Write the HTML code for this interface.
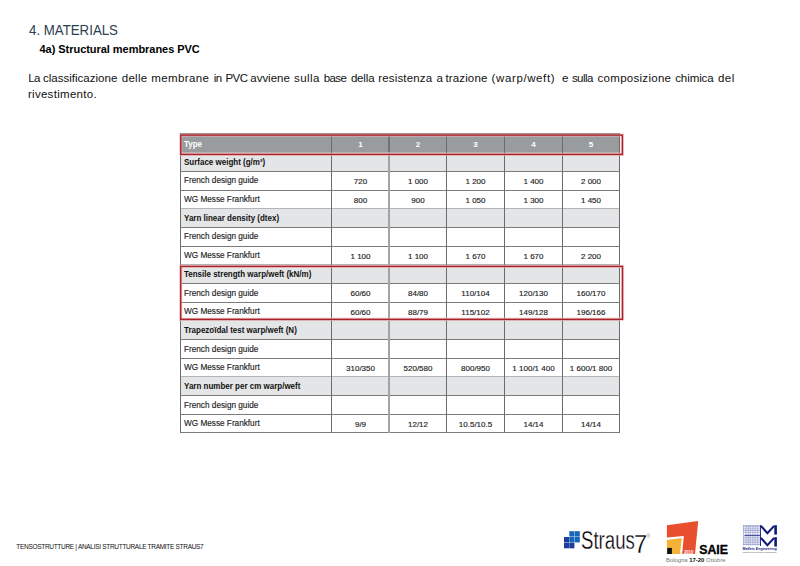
<!DOCTYPE html>
<html><head><meta charset="utf-8"><title>4. Materials</title><style>
html,body{margin:0;padding:0;background:#fff;}
body{width:800px;height:566px;overflow:hidden;position:relative;font-family:"Liberation Sans",Arial,sans-serif;}
.a{position:absolute;white-space:nowrap;}
.c{position:absolute;text-align:center;white-space:nowrap;}
.bg{position:absolute;}
</style></head><body>
<div class="a" id="t1" style="left:28.60px;top:22.73px;font-size:14.50px;line-height:14.50px;color:#2c4050;transform:scaleX(0.915);transform-origin:0 0;">4. MATERIALS</div>
<div class="a" id="t2" style="left:39.50px;top:44.29px;font-size:11.00px;line-height:11.00px;font-weight:bold;color:#000;letter-spacing:-0.04px;">4a) Structural membranes PVC</div>
<div class="a" id="p1" style="left:28.7px;top:73.47px;width:710px;height:14px;font-size:11.5px;line-height:11.5px;color:#111;"><span style="position:absolute;left:-0.50px;letter-spacing:-0.60px">La</span> <span style="position:absolute;left:14.20px;letter-spacing:0.02px">classificazione</span> <span style="position:absolute;left:93.10px;letter-spacing:0.25px">delle</span> <span style="position:absolute;left:122.60px;letter-spacing:0.38px">membrane</span> <span style="position:absolute;left:185.10px;letter-spacing:-0.60px">in</span> <span style="position:absolute;left:196.80px;letter-spacing:-0.60px">PVC</span> <span style="position:absolute;left:221.60px;letter-spacing:-0.02px">avviene</span> <span style="position:absolute;left:265.30px;letter-spacing:0.46px">sulla</span> <span style="position:absolute;left:295.00px;letter-spacing:-0.60px">base</span> <span style="position:absolute;left:322.20px;letter-spacing:-0.15px">della</span> <span style="position:absolute;left:349.60px;letter-spacing:0.16px">resistenza</span> <span style="position:absolute;left:407.70px;letter-spacing:0.00px">a</span> <span style="position:absolute;left:416.70px;letter-spacing:0.15px">trazione</span> <span style="position:absolute;left:462.90px;letter-spacing:0.61px">(warp/weft)</span> <span style="position:absolute;left:533.20px;letter-spacing:0.00px">e</span> <span style="position:absolute;left:543.20px;letter-spacing:-0.54px">sulla</span> <span style="position:absolute;left:568.90px;letter-spacing:0.28px">composizione</span> <span style="position:absolute;left:646.50px;letter-spacing:-0.08px">chimica</span> <span style="position:absolute;left:689.20px;letter-spacing:0.52px">del</span> </div>
<div class="a" id="p2" style="left:27.90px;top:88.67px;font-size:11.50px;line-height:11.50px;color:#111;letter-spacing:0.3px;">rivestimento.</div>
<div class="bg" style="left:180px;top:133px;width:439px;height:19px;background:#989c9f"></div>
<div class="bg" style="left:180px;top:152px;width:439px;height:19px;background:#e4e5e7"></div>
<div class="bg" style="left:180px;top:208px;width:439px;height:19px;background:#e4e5e7"></div>
<div class="bg" style="left:180px;top:264px;width:439px;height:19px;background:#e4e5e7"></div>
<div class="bg" style="left:180px;top:320px;width:439px;height:19px;background:#e4e5e7"></div>
<div class="bg" style="left:180px;top:376px;width:439px;height:19px;background:#e4e5e7"></div>
<div class="bg" style="left:180px;top:133px;width:440px;height:1px;background:#7c7c7c"></div>
<div class="bg" style="left:180px;top:152px;width:440px;height:1px;background:#b4b4b4"></div>
<div class="bg" style="left:180px;top:171px;width:440px;height:1px;background:#7c7c7c"></div>
<div class="bg" style="left:180px;top:190px;width:440px;height:1px;background:#7c7c7c"></div>
<div class="bg" style="left:180px;top:208px;width:440px;height:1px;background:#b4b4b4"></div>
<div class="bg" style="left:180px;top:227px;width:440px;height:1px;background:#7c7c7c"></div>
<div class="bg" style="left:180px;top:246px;width:440px;height:1px;background:#7c7c7c"></div>
<div class="bg" style="left:180px;top:264px;width:440px;height:1px;background:#b4b4b4"></div>
<div class="bg" style="left:180px;top:283px;width:440px;height:1px;background:#7c7c7c"></div>
<div class="bg" style="left:180px;top:302px;width:440px;height:1px;background:#7c7c7c"></div>
<div class="bg" style="left:180px;top:320px;width:440px;height:1px;background:#b4b4b4"></div>
<div class="bg" style="left:180px;top:339px;width:440px;height:1px;background:#7c7c7c"></div>
<div class="bg" style="left:180px;top:358px;width:440px;height:1px;background:#7c7c7c"></div>
<div class="bg" style="left:180px;top:376px;width:440px;height:1px;background:#b4b4b4"></div>
<div class="bg" style="left:180px;top:395px;width:440px;height:1px;background:#7c7c7c"></div>
<div class="bg" style="left:180px;top:414px;width:440px;height:1px;background:#7c7c7c"></div>
<div class="bg" style="left:180px;top:432px;width:440px;height:1px;background:#7c7c7c"></div>
<div class="bg" style="left:180px;top:133px;width:1px;height:300px;background:#6c6c6c"></div>
<div class="bg" style="left:331px;top:133px;width:1px;height:300px;background:#6c6c6c"></div>
<div class="bg" style="left:388px;top:133px;width:2px;height:300px;background:#a3a3a3"></div>
<div class="bg" style="left:388px;top:133px;width:2px;height:19px;background:#707274"></div>
<div class="bg" style="left:446px;top:133px;width:1px;height:300px;background:#6c6c6c"></div>
<div class="bg" style="left:504px;top:133px;width:1px;height:300px;background:#6c6c6c"></div>
<div class="bg" style="left:562px;top:133px;width:1px;height:300px;background:#6c6c6c"></div>
<div class="bg" style="left:619px;top:133px;width:1px;height:300px;background:#6c6c6c"></div>
<div class="a" id="r0" style="left:184.00px;top:140.32px;font-size:8.60px;line-height:8.60px;font-weight:bold;color:#fff;transform:scaleX(0.930);transform-origin:0 0;">Type</div>
<div class="c" id="v0_0" style="left:332px;width:57px;top:140.83px;font-size:8.00px;line-height:8.00px;font-weight:bold;color:#fff;">1</div>
<div class="c" id="v0_1" style="left:390px;width:56px;top:140.83px;font-size:8.00px;line-height:8.00px;font-weight:bold;color:#fff;">2</div>
<div class="c" id="v0_2" style="left:447px;width:57px;top:140.83px;font-size:8.00px;line-height:8.00px;font-weight:bold;color:#fff;">3</div>
<div class="c" id="v0_3" style="left:505px;width:57px;top:140.83px;font-size:8.00px;line-height:8.00px;font-weight:bold;color:#fff;">4</div>
<div class="c" id="v0_4" style="left:563px;width:56px;top:140.83px;font-size:8.00px;line-height:8.00px;font-weight:bold;color:#fff;">5</div>
<div class="a" id="r1" style="left:184.00px;top:158.11px;font-size:8.60px;line-height:8.60px;font-weight:bold;color:#111;transform:scaleX(0.930);transform-origin:0 0;">Surface weight (g/m²)</div>
<div class="a" id="r2" style="left:184.00px;top:176.40px;font-size:8.60px;line-height:8.60px;color:#1c1c1c;-webkit-text-stroke:0.15px #1c1c1c;transform:scaleX(0.955);transform-origin:0 0;">French design guide</div>
<div class="c" id="v2_0" style="left:332px;width:57px;top:177.81px;font-size:8.00px;line-height:8.00px;color:#1c1c1c;-webkit-text-stroke:0.15px #1c1c1c;">720</div>
<div class="c" id="v2_1" style="left:390px;width:56px;top:177.81px;font-size:8.00px;line-height:8.00px;color:#1c1c1c;-webkit-text-stroke:0.15px #1c1c1c;">1 000</div>
<div class="c" id="v2_2" style="left:447px;width:57px;top:177.81px;font-size:8.00px;line-height:8.00px;color:#1c1c1c;-webkit-text-stroke:0.15px #1c1c1c;">1 200</div>
<div class="c" id="v2_3" style="left:505px;width:57px;top:177.81px;font-size:8.00px;line-height:8.00px;color:#1c1c1c;-webkit-text-stroke:0.15px #1c1c1c;">1 400</div>
<div class="c" id="v2_4" style="left:563px;width:56px;top:177.81px;font-size:8.00px;line-height:8.00px;color:#1c1c1c;-webkit-text-stroke:0.15px #1c1c1c;">2 000</div>
<div class="a" id="r3" style="left:184.00px;top:195.09px;font-size:8.60px;line-height:8.60px;color:#1c1c1c;-webkit-text-stroke:0.15px #1c1c1c;transform:scaleX(0.955);transform-origin:0 0;">WG Messe Frankfurt</div>
<div class="c" id="v3_0" style="left:332px;width:57px;top:196.50px;font-size:8.00px;line-height:8.00px;color:#1c1c1c;-webkit-text-stroke:0.15px #1c1c1c;">800</div>
<div class="c" id="v3_1" style="left:390px;width:56px;top:196.50px;font-size:8.00px;line-height:8.00px;color:#1c1c1c;-webkit-text-stroke:0.15px #1c1c1c;">900</div>
<div class="c" id="v3_2" style="left:447px;width:57px;top:196.50px;font-size:8.00px;line-height:8.00px;color:#1c1c1c;-webkit-text-stroke:0.15px #1c1c1c;">1 050</div>
<div class="c" id="v3_3" style="left:505px;width:57px;top:196.50px;font-size:8.00px;line-height:8.00px;color:#1c1c1c;-webkit-text-stroke:0.15px #1c1c1c;">1 300</div>
<div class="c" id="v3_4" style="left:563px;width:56px;top:196.50px;font-size:8.00px;line-height:8.00px;color:#1c1c1c;-webkit-text-stroke:0.15px #1c1c1c;">1 450</div>
<div class="a" id="r4" style="left:184.00px;top:214.18px;font-size:8.60px;line-height:8.60px;font-weight:bold;color:#111;transform:scaleX(0.930);transform-origin:0 0;">Yarn linear density (dtex)</div>
<div class="a" id="r5" style="left:184.00px;top:232.47px;font-size:8.60px;line-height:8.60px;color:#1c1c1c;-webkit-text-stroke:0.15px #1c1c1c;transform:scaleX(0.955);transform-origin:0 0;">French design guide</div>
<div class="a" id="r6" style="left:184.00px;top:251.16px;font-size:8.60px;line-height:8.60px;color:#1c1c1c;-webkit-text-stroke:0.15px #1c1c1c;transform:scaleX(0.955);transform-origin:0 0;">WG Messe Frankfurt</div>
<div class="c" id="v6_0" style="left:332px;width:57px;top:252.57px;font-size:8.00px;line-height:8.00px;color:#1c1c1c;-webkit-text-stroke:0.15px #1c1c1c;">1 100</div>
<div class="c" id="v6_1" style="left:390px;width:56px;top:252.57px;font-size:8.00px;line-height:8.00px;color:#1c1c1c;-webkit-text-stroke:0.15px #1c1c1c;">1 100</div>
<div class="c" id="v6_2" style="left:447px;width:57px;top:252.57px;font-size:8.00px;line-height:8.00px;color:#1c1c1c;-webkit-text-stroke:0.15px #1c1c1c;">1 670</div>
<div class="c" id="v6_3" style="left:505px;width:57px;top:252.57px;font-size:8.00px;line-height:8.00px;color:#1c1c1c;-webkit-text-stroke:0.15px #1c1c1c;">1 670</div>
<div class="c" id="v6_4" style="left:563px;width:56px;top:252.57px;font-size:8.00px;line-height:8.00px;color:#1c1c1c;-webkit-text-stroke:0.15px #1c1c1c;">2 200</div>
<div class="a" id="r7" style="left:184.00px;top:270.25px;font-size:8.60px;line-height:8.60px;font-weight:bold;color:#111;transform:scaleX(0.930);transform-origin:0 0;">Tensile strength warp/weft (kN/m)</div>
<div class="a" id="r8" style="left:184.00px;top:288.54px;font-size:8.60px;line-height:8.60px;color:#1c1c1c;-webkit-text-stroke:0.15px #1c1c1c;transform:scaleX(0.955);transform-origin:0 0;">French design guide</div>
<div class="c" id="v8_0" style="left:332px;width:57px;top:289.95px;font-size:8.00px;line-height:8.00px;color:#1c1c1c;-webkit-text-stroke:0.15px #1c1c1c;">60/60</div>
<div class="c" id="v8_1" style="left:390px;width:56px;top:289.95px;font-size:8.00px;line-height:8.00px;color:#1c1c1c;-webkit-text-stroke:0.15px #1c1c1c;">84/80</div>
<div class="c" id="v8_2" style="left:447px;width:57px;top:289.95px;font-size:8.00px;line-height:8.00px;color:#1c1c1c;-webkit-text-stroke:0.15px #1c1c1c;">110/104</div>
<div class="c" id="v8_3" style="left:505px;width:57px;top:289.95px;font-size:8.00px;line-height:8.00px;color:#1c1c1c;-webkit-text-stroke:0.15px #1c1c1c;">120/130</div>
<div class="c" id="v8_4" style="left:563px;width:56px;top:289.95px;font-size:8.00px;line-height:8.00px;color:#1c1c1c;-webkit-text-stroke:0.15px #1c1c1c;">160/170</div>
<div class="a" id="r9" style="left:184.00px;top:307.23px;font-size:8.60px;line-height:8.60px;color:#1c1c1c;-webkit-text-stroke:0.15px #1c1c1c;transform:scaleX(0.955);transform-origin:0 0;">WG Messe Frankfurt</div>
<div class="c" id="v9_0" style="left:332px;width:57px;top:308.64px;font-size:8.00px;line-height:8.00px;color:#1c1c1c;-webkit-text-stroke:0.15px #1c1c1c;">60/60</div>
<div class="c" id="v9_1" style="left:390px;width:56px;top:308.64px;font-size:8.00px;line-height:8.00px;color:#1c1c1c;-webkit-text-stroke:0.15px #1c1c1c;">88/79</div>
<div class="c" id="v9_2" style="left:447px;width:57px;top:308.64px;font-size:8.00px;line-height:8.00px;color:#1c1c1c;-webkit-text-stroke:0.15px #1c1c1c;">115/102</div>
<div class="c" id="v9_3" style="left:505px;width:57px;top:308.64px;font-size:8.00px;line-height:8.00px;color:#1c1c1c;-webkit-text-stroke:0.15px #1c1c1c;">149/128</div>
<div class="c" id="v9_4" style="left:563px;width:56px;top:308.64px;font-size:8.00px;line-height:8.00px;color:#1c1c1c;-webkit-text-stroke:0.15px #1c1c1c;">196/166</div>
<div class="a" id="r10" style="left:184.00px;top:326.32px;font-size:8.60px;line-height:8.60px;font-weight:bold;color:#111;transform:scaleX(0.930);transform-origin:0 0;">Trapezoïdal test warp/weft (N)</div>
<div class="a" id="r11" style="left:184.00px;top:344.61px;font-size:8.60px;line-height:8.60px;color:#1c1c1c;-webkit-text-stroke:0.15px #1c1c1c;transform:scaleX(0.955);transform-origin:0 0;">French design guide</div>
<div class="a" id="r12" style="left:184.00px;top:363.30px;font-size:8.60px;line-height:8.60px;color:#1c1c1c;-webkit-text-stroke:0.15px #1c1c1c;transform:scaleX(0.955);transform-origin:0 0;">WG Messe Frankfurt</div>
<div class="c" id="v12_0" style="left:332px;width:57px;top:364.71px;font-size:8.00px;line-height:8.00px;color:#1c1c1c;-webkit-text-stroke:0.15px #1c1c1c;">310/350</div>
<div class="c" id="v12_1" style="left:390px;width:56px;top:364.71px;font-size:8.00px;line-height:8.00px;color:#1c1c1c;-webkit-text-stroke:0.15px #1c1c1c;">520/580</div>
<div class="c" id="v12_2" style="left:447px;width:57px;top:364.71px;font-size:8.00px;line-height:8.00px;color:#1c1c1c;-webkit-text-stroke:0.15px #1c1c1c;">800/950</div>
<div class="c" id="v12_3" style="left:505px;width:57px;top:364.71px;font-size:8.00px;line-height:8.00px;color:#1c1c1c;-webkit-text-stroke:0.15px #1c1c1c;">1 100/1 400</div>
<div class="c" id="v12_4" style="left:563px;width:56px;top:364.71px;font-size:8.00px;line-height:8.00px;color:#1c1c1c;-webkit-text-stroke:0.15px #1c1c1c;">1 600/1 800</div>
<div class="a" id="r13" style="left:184.00px;top:382.39px;font-size:8.60px;line-height:8.60px;font-weight:bold;color:#111;transform:scaleX(0.930);transform-origin:0 0;">Yarn number per cm warp/weft</div>
<div class="a" id="r14" style="left:184.00px;top:400.68px;font-size:8.60px;line-height:8.60px;color:#1c1c1c;-webkit-text-stroke:0.15px #1c1c1c;transform:scaleX(0.955);transform-origin:0 0;">French design guide</div>
<div class="a" id="r15" style="left:184.00px;top:419.37px;font-size:8.60px;line-height:8.60px;color:#1c1c1c;-webkit-text-stroke:0.15px #1c1c1c;transform:scaleX(0.955);transform-origin:0 0;">WG Messe Frankfurt</div>
<div class="c" id="v15_0" style="left:332px;width:57px;top:420.78px;font-size:8.00px;line-height:8.00px;color:#1c1c1c;-webkit-text-stroke:0.15px #1c1c1c;">9/9</div>
<div class="c" id="v15_1" style="left:390px;width:56px;top:420.78px;font-size:8.00px;line-height:8.00px;color:#1c1c1c;-webkit-text-stroke:0.15px #1c1c1c;">12/12</div>
<div class="c" id="v15_2" style="left:447px;width:57px;top:420.78px;font-size:8.00px;line-height:8.00px;color:#1c1c1c;-webkit-text-stroke:0.15px #1c1c1c;">10.5/10.5</div>
<div class="c" id="v15_3" style="left:505px;width:57px;top:420.78px;font-size:8.00px;line-height:8.00px;color:#1c1c1c;-webkit-text-stroke:0.15px #1c1c1c;">14/14</div>
<div class="c" id="v15_4" style="left:563px;width:56px;top:420.78px;font-size:8.00px;line-height:8.00px;color:#1c1c1c;-webkit-text-stroke:0.15px #1c1c1c;">14/14</div>
<svg class="bg" style="left:0;top:0" width="800" height="566" viewBox="0 0 800 566">
<g fill="none">
<rect x="180.8" y="135.1" width="441.6" height="19.3" stroke="#f0b4b7" stroke-opacity="0.7" stroke-width="3.2"/>
<rect x="180.8" y="135.1" width="441.6" height="19.3" stroke="#a8232b" stroke-width="1.4"/>
<rect x="180.7" y="266.4" width="441.8" height="52.9" stroke="#f0b4b7" stroke-opacity="0.7" stroke-width="3.2"/>
<rect x="180.7" y="266.4" width="441.8" height="52.9" stroke="#a8232b" stroke-width="1.4"/>
</g></svg>
<div class="a" id="f1" style="left:16.30px;top:543.90px;font-size:6.50px;line-height:6.50px;color:#111;letter-spacing:-0.3px;">TENSOSTRUTTURE | ANALISI STRUTTURALE TRAMITE STRAUS7</div>
<svg class="bg" style="left:560px;top:526px" width="30" height="26" viewBox="560 526 30 26">
<rect x="569.3" y="531.2" width="5.1" height="5.4" fill="#1565b8"/>
<rect x="574.7" y="531.2" width="5.1" height="5.4" fill="#1565b8"/>
<rect x="564" y="537" width="5.1" height="5.4" fill="#1f3b9c"/>
<rect x="569.3" y="537" width="5.1" height="5.4" fill="#1565b8"/>
<rect x="574.7" y="537" width="5.1" height="5.4" fill="#1565b8"/>
<rect x="564" y="542.7" width="5.1" height="5.6" fill="#1f3b9c"/>
<rect x="569.3" y="542.7" width="5.1" height="5.6" fill="#1f3b9c"/>
</svg>
<div class="a" id="s7" style="left:581.00px;top:528.44px;font-size:25.00px;line-height:25.00px;color:#000;transform:scaleX(0.745);transform-origin:0 0;-webkit-text-stroke:0.35px #fff;">Straus</div>
<div class="a" id="s7b" style="left:633.60px;top:531.71px;font-size:25.50px;line-height:25.50px;color:#000;transform:scaleX(0.93);transform-origin:0 0;-webkit-text-stroke:0.3px #fff;">7</div>
<div class="a" id="s7r" style="left:646.60px;top:534.17px;font-size:5.00px;line-height:5.00px;color:#888;">®</div>
<svg class="bg" style="left:660px;top:516px" width="45" height="42" viewBox="660 516 45 42">
<polygon points="666.9,525.2 698.2,520.9 695,554 682.2,554 683.8,536 666.9,537.4" fill="#e84f2f"/>
<polygon points="666.9,540 681.8,538 680,554 666.9,554" fill="#f6b137"/>
<rect x="667.2" y="547.9" width="4.7" height="6.1" fill="#111"/>
<text x="683.9" y="553.6" font-family="Liberation Sans" font-size="4.6" font-weight="bold" fill="#fff" textLength="9.4" lengthAdjust="spacingAndGlyphs">2010</text>
</svg>
<div class="a" id="saie" style="left:699.20px;top:543.79px;font-size:12.30px;line-height:12.30px;font-weight:bold;color:#000;-webkit-text-stroke:0.35px #000;">SAIE</div>
<div class="a" id="bol" style="left:666px;top:557.51px;font-size:5.9px;line-height:5.9px;color:#777;">Bologna <b style="color:#111">17-20</b> Ottobre</div>
<svg class="bg" style="left:740px;top:522px" width="42" height="34" viewBox="740 522 42 34">
<line x1="743" y1="525.70" x2="760" y2="525.70" stroke="#8d95c8" stroke-width="0.7"/>
<line x1="743" y1="526.80" x2="760" y2="526.80" stroke="#8d95c8" stroke-width="0.7"/>
<line x1="743" y1="528.90" x2="760" y2="528.90" stroke="#8d95c8" stroke-width="0.7"/>
<line x1="743" y1="530.50" x2="760" y2="530.50" stroke="#8d95c8" stroke-width="0.7"/>
<line x1="743" y1="532.30" x2="760" y2="532.30" stroke="#8d95c8" stroke-width="0.7"/>
<line x1="743" y1="537.20" x2="760" y2="537.20" stroke="#8d95c8" stroke-width="0.7"/>
<line x1="743" y1="539.00" x2="760" y2="539.00" stroke="#8d95c8" stroke-width="0.7"/>
<line x1="743" y1="540.90" x2="760" y2="540.90" stroke="#8d95c8" stroke-width="0.7"/>
<line x1="743" y1="542.70" x2="760" y2="542.70" stroke="#8d95c8" stroke-width="0.7"/>
<line x1="743" y1="544.50" x2="760" y2="544.50" stroke="#8d95c8" stroke-width="0.7"/>
<line x1="743.40" y1="525" x2="743.40" y2="545.7" stroke="#98a0cf" stroke-width="0.7"/>
<line x1="746.00" y1="525" x2="746.00" y2="545.7" stroke="#98a0cf" stroke-width="0.7"/>
<line x1="748.30" y1="525" x2="748.30" y2="545.7" stroke="#98a0cf" stroke-width="0.7"/>
<line x1="750.30" y1="525" x2="750.30" y2="545.7" stroke="#98a0cf" stroke-width="0.7"/>
<line x1="752.90" y1="525" x2="752.90" y2="545.7" stroke="#98a0cf" stroke-width="0.7"/>
<line x1="755.20" y1="525" x2="755.20" y2="545.7" stroke="#98a0cf" stroke-width="0.7"/>
<line x1="757.70" y1="525" x2="757.70" y2="545.7" stroke="#98a0cf" stroke-width="0.7"/>
<line x1="744.4" y1="535.3" x2="760.5" y2="535.3" stroke="#101a7a" stroke-width="0.9"/>
<line x1="760.5" y1="525" x2="760.5" y2="546" stroke="#101a7a" stroke-width="0.9"/>
<path d="M760.9,525.90 L767.4,533.20 L774.2,525.90" fill="none" stroke="#101a7a" stroke-width="2.1" stroke-linejoin="miter"/>
<rect x="774.3" y="525.20" width="2.6" height="9.40" fill="#101a7a"/>
<path d="M760.9,537.90 L767.4,545.20 L774.2,537.90" fill="none" stroke="#101a7a" stroke-width="2.1" stroke-linejoin="miter"/>
<rect x="774.3" y="537.20" width="2.6" height="9.40" fill="#101a7a"/>
<text x="742.4" y="549.8" font-family="Liberation Sans" font-size="3.9" font-weight="bold" fill="#1a2480" textLength="34.3" lengthAdjust="spacingAndGlyphs">Maffeis Engineering</text>
<text x="742.4" y="552.8" font-family="Liberation Sans" font-size="2.4" fill="#555" textLength="34" lengthAdjust="spacingAndGlyphs">engineering and consulting</text>
</svg>
</body></html>
